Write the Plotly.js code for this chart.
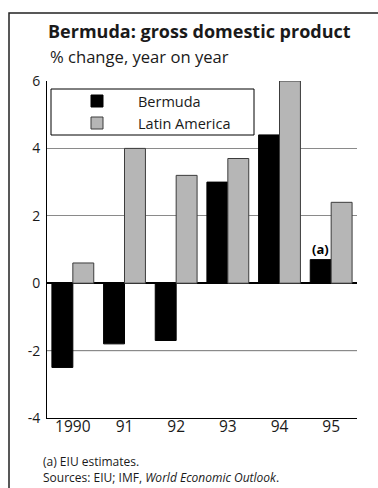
<!DOCTYPE html>
<html>
<head>
<meta charset="utf-8">
<script src="https://cdn.plot.ly/plotly-3.0.1.min.js"></script>
<style>
  html, body { margin: 0; padding: 0; background: #fff; }
  #chart { width: 378px; height: 488px; }
</style>
</head>
<body>
<div id="chart"></div>
<script>
// GDP growth, % change year on year
const years = ['1990', '91', '92', '93', '94', '95'];
const bermuda = [-2.5, -1.8, -1.7, 3.0, 4.4, 0.7];
const latinAmerica = [0.6, 4.0, 3.2, 3.7, 6.0, 2.4];
const seriesNames = ['Bermuda', 'Latin America'];
const yTicks = [-4, -2, 0, 2, 4, 6];
const estimateIdx = years.length - 1;   // last Bermuda value is an EIU estimate

// Plot-area geometry in page pixels
const W = 378, H = 488;
const M = { l: 47, r: 21, t: 81, b: 70 };
const pw = W - M.l - M.r, ph = H - M.t - M.b;
const px = x => (x - M.l) / pw;          // page x -> paper x
const py = y => (H - M.b - y) / ph;      // page y -> paper y

const FONT = '"Open Sans", "Noto Sans", sans-serif';
const INK = '#1a1a1a';

const traces = [
  {
    type: 'bar', name: seriesNames[0], x: years, y: bermuda,
    marker: { color: '#000000', line: { color: '#000000', width: 1 } },
    hoverinfo: 'x+y'
  },
  {
    type: 'bar', name: seriesNames[1], x: years, y: latinAmerica,
    marker: { color: '#b6b6b6', line: { color: '#3c3c3c', width: 1 } },
    hoverinfo: 'x+y'
  }
];

const shapes = [
  // outer frame
  { type: 'rect', xref: 'paper', yref: 'paper', x0: px(9), x1: px(390), y0: py(500), y1: py(13),
    line: { color: '#222', width: 1.5 }, layer: 'below' },
  // black rule at -2
  { type: 'line', xref: 'paper', yref: 'y', x0: 0, x1: 1, y0: -2, y1: -2,
    line: { color: '#000', width: 1 }, layer: 'below' },
  // legend box
  { type: 'rect', xref: 'paper', yref: 'paper', x0: px(51), x1: px(254), y0: py(135), y1: py(89),
    fillcolor: '#fff', line: { color: '#000', width: 1 }, layer: 'above' },
  // legend swatches
  { type: 'rect', xref: 'paper', yref: 'paper', x0: px(91), x1: px(103), y0: py(107), y1: py(95),
    fillcolor: '#000', line: { color: '#000', width: 1 }, layer: 'above' },
  { type: 'rect', xref: 'paper', yref: 'paper', x0: px(91), x1: px(103), y0: py(129), y1: py(117),
    fillcolor: '#b6b6b6', line: { color: '#3c3c3c', width: 1 }, layer: 'above' }
];

const annotations = [
  { xref: 'paper', yref: 'paper', x: px(46), y: py(31), xanchor: 'left', yanchor: 'middle',
    text: '<b>Bermuda: gross domestic product</b>', showarrow: false,
    font: { family: FONT, size: 18, color: INK } },
  { xref: 'paper', yref: 'paper', x: px(48), y: py(57), xanchor: 'left', yanchor: 'middle',
    text: '% change, year on year', showarrow: false,
    font: { family: FONT, size: 16.6, color: INK } },
  { xref: 'paper', yref: 'paper', x: px(136), y: py(101), xanchor: 'left', yanchor: 'middle',
    text: seriesNames[0], showarrow: false, font: { family: FONT, size: 14.5, color: INK } },
  { xref: 'paper', yref: 'paper', x: px(136), y: py(123), xanchor: 'left', yanchor: 'middle',
    text: seriesNames[1], showarrow: false, font: { family: FONT, size: 14.5, color: INK } },
  // estimate marker on the last Bermuda bar
  { xref: 'x', yref: 'y', x: estimateIdx, y: bermuda[estimateIdx], xshift: -10.5, yshift: 0,
    xanchor: 'center', yanchor: 'bottom', text: '<b>(a)</b>', showarrow: false,
    font: { family: FONT, size: 13, color: '#000' } },
  { xref: 'paper', yref: 'paper', x: px(41), y: py(461), xanchor: 'left', yanchor: 'middle',
    text: '(a) EIU estimates.', showarrow: false, font: { family: FONT, size: 12, color: INK } },
  { xref: 'paper', yref: 'paper', x: px(41), y: py(477), xanchor: 'left', yanchor: 'middle',
    text: 'Sources: EIU; IMF, <i>World Economic Outlook</i>.', showarrow: false,
    font: { family: FONT, size: 12, color: INK } }
];

const layout = {
  width: W, height: H,
  margin: M,
  paper_bgcolor: '#fff', plot_bgcolor: '#fff',
  showlegend: false,
  barmode: 'group', bargap: 0.19, bargroupgap: 0,
  font: { family: FONT, color: INK },
  xaxis: {
    type: 'category', categoryorder: 'array', categoryarray: years,
    range: [-0.5, 5.5], showgrid: false, zeroline: false,
    showline: true, linecolor: '#000', linewidth: 1,
    ticks: '', ticklen: 0, ticklabelstandoff: -6,
    tickfont: { family: FONT, size: 15.5, color: INK },
    fixedrange: true
  },
  yaxis: {
    range: [-4, 6], tickvals: yTicks, ticktext: yTicks.map(String),
    showgrid: true, gridcolor: '#8a8a8a', gridwidth: 1,
    zeroline: true, zerolinecolor: '#000', zerolinewidth: 2,
    showline: true, linecolor: '#000', linewidth: 1,
    ticks: '', ticklabelstandoff: 3,
    tickfont: { family: FONT, size: 14, color: INK },
    fixedrange: true
  },
  shapes: shapes,
  annotations: annotations
};

Plotly.newPlot('chart', traces, layout, { staticPlot: true, displayModeBar: false });
</script>
</body>
</html>
